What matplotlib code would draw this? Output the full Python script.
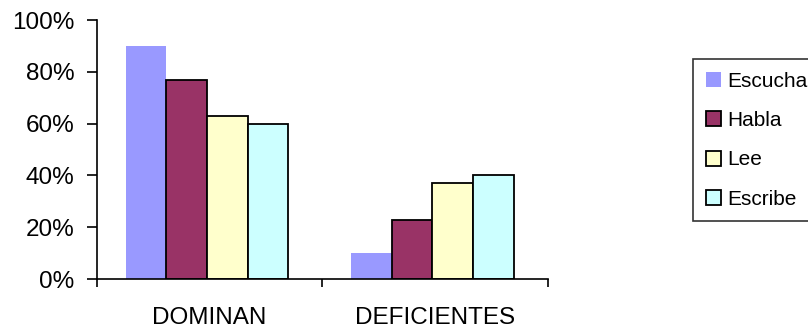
import numpy as np
import matplotlib.pyplot as plt
from matplotlib.ticker import PercentFormatter

plt.rcParams['font.family'] = ['Liberation Sans', 'DejaVu Sans']

# Datos
categorias = ['DOMINAN', 'DEFICIENTES']
series = ['Escucha', 'Habla', 'Lee', 'Escribe']
escucha = [90, 10]
habla = [77, 23]
lee = [63, 37]
escribe = [60, 40]
colores = ['#9999FF', '#993366', '#FFFFCC', '#CCFFFF']

valores = [escucha, habla, lee, escribe]

fig = plt.figure(figsize=(8.08, 3.28), dpi=100)
ax = fig.add_axes([0.12, 0.149, 0.558, 0.79])

x = np.arange(len(categorias))
ancho = 0.18
for i, (nombre, vals) in enumerate(zip(series, valores)):
    pos = x + (i - 1.5) * ancho - 0.012
    if i == 0:
        ax.bar(pos, vals, ancho, color=colores[i], label=nombre, linewidth=0)
    else:
        ax.bar(pos, vals, ancho, color=colores[i], label=nombre,
               edgecolor='black', linewidth=1.3)

ax.set_xlim(-0.5, 1.5)
ax.set_ylim(0, 100)
ax.set_yticks(np.arange(0, 101, 20))
ax.yaxis.set_major_formatter(PercentFormatter(decimals=0))
ax.set_xticks([-0.5, 0.5, 1.5])
ax.set_xticklabels([])
ax.set_xticks(x, minor=True)
ax.set_xticklabels(categorias, minor=True)
ax.tick_params(axis='x', which='minor', length=0, labelsize=17.5, pad=20)
ax.tick_params(axis='x', which='major', length=6, direction='out', width=1.2)
ax.tick_params(axis='y', length=7, width=1.2, labelsize=17.5, pad=9)
ax.spines['top'].set_visible(False)
ax.spines['right'].set_visible(False)
ax.spines['left'].set_linewidth(1.2)
ax.spines['bottom'].set_linewidth(1.2)

leg = fig.legend(loc='upper left', bbox_to_anchor=(0.858, 0.82), frameon=True,
                 fancybox=False, edgecolor='black', fontsize=15,
                 handlelength=0.72, handleheight=0.72, handletextpad=0.3,
                 labelspacing=0.98, borderpad=0.6, borderaxespad=0)
leg.get_frame().set_linewidth(1.2)

fig.savefig('out.png', dpi=100)
